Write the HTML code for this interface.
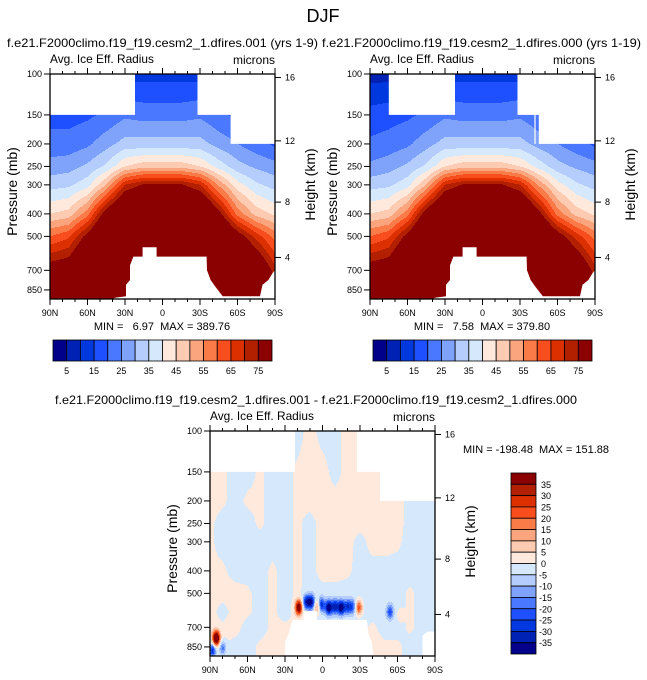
<!DOCTYPE html>
<html><head><meta charset="utf-8"><style>
html,body{margin:0;padding:0;background:#fff;}
svg{display:block;font-family:"Liberation Sans",sans-serif;}
</style></head><body>
<svg id="root" width="647" height="680" viewBox="0 0 647 680" xmlns="http://www.w3.org/2000/svg">
<text x="323" y="22" font-size="18" text-anchor="middle">DJF</text>
<text x="7" y="47" font-size="12" textLength="311" lengthAdjust="spacingAndGlyphs">f.e21.F2000climo.f19_f19.cesm2_1.dfires.001 (yrs 1-9)</text>
<text x="322" y="47" font-size="12" textLength="319" lengthAdjust="spacingAndGlyphs">f.e21.F2000climo.f19_f19.cesm2_1.dfires.000 (yrs 1-19)</text>
<text x="55" y="404" font-size="12" textLength="522" lengthAdjust="spacingAndGlyphs">f.e21.F2000climo.f19_f19.cesm2_1.dfires.001 - f.e21.F2000climo.f19_f19.cesm2_1.dfires.000</text>
<text x="162" y="330" font-size="11" text-anchor="middle" xml:space="preserve">MIN =   6.97  MAX = 389.76</text>
<text x="482" y="330" font-size="11" text-anchor="middle" xml:space="preserve">MIN =   7.58  MAX = 379.80</text>
<text x="463" y="453" font-size="11" textLength="146" lengthAdjust="spacingAndGlyphs" xml:space="preserve">MIN = -198.48  MAX = 151.88</text>
</svg>
<script>
const latGrid=[90,75,60,45,30,15,0,-15,-30,-45,-60,-75,-90];
const presGrid=[100,150,200,250,300,400,500,700,850,930];
const ice001=[
[10,10,11,12,13,13,13,13,13,12,11,10,10],
[18,18,19,21,24,23,23,23,24,21,19,18,18],
[22,22,24,28,32,32,32,32,32,28,25,22,19],
[27,28,31,36,45,48,48,48,45,38,32,29,27],
[33,34,38,50,70,76,76,76,70,54,42,36,33],
[45,47,58,80,95,95,95,95,95,78,58,48,44],
[60,64,78,95,95,95,95,95,95,95,80,68,58],
[80,82,95,95,95,95,95,95,95,95,95,88,72],
[85,88,95,95,95,95,95,95,95,95,95,92,76],
[85,88,95,95,95,95,95,95,95,95,95,92,76]];
const ice000=[
[8,8,11,12,13,13,13,13,13,12,11,10,10],
[17,18,19,21,24,23,23,23,24,21,19,18,18],
[21,22,24,28,32,32,32,32,32,28,25,22,19],
[26,28,31,36,45,48,48,48,45,38,32,29,27],
[33,34,38,50,70,76,76,76,70,54,42,36,33],
[45,47,58,80,95,95,95,95,95,78,58,48,44],
[60,64,78,95,95,95,95,95,95,95,80,68,58],
[80,82,95,95,95,95,95,95,95,95,95,88,72],
[85,88,95,95,95,95,95,95,95,95,95,92,76],
[85,88,95,95,95,95,95,95,95,95,95,92,76]];
const absLevels=[5,10,15,20,25,30,35,40,45,50,55,60,65,70,75];
const absLabels=[5,15,25,35,45,55,65,75];
const absColors=["#00008b","#0022b4","#0038e0","#1e50ff","#4a78ff","#7fa2fb","#b4cdfd","#d6e8fc","#fee9dc","#fdcab2","#fba57f","#fa7a48","#f84d1c","#dc3000","#b32000","#8b0000"];
const diffLat=[90,80,70,60,50,40,30,20,10,0,-10,-20,-30,-40,-50,-60,-70,-80,-90];
const diffPres=[100,150,200,250,300,400,500,600,700,850,930];
const diffVals=[
[2,1,-2,-2,1,-2,-2,-2,2,-2,-2,2,2,2,2,-2,-2,-2,-2],
[2,1,-2,-2,1,-2,-2,1,2,2,-2,2,2,2,2,-2,-2,-2,-2],
[2,1,-2,1,1,-2,-2,1,2,2,2,2,2,2,2,2,-2,-2,-2],
[1,-2,-2,-2,1,-2,-2,1,-2,2,2,2,2,2,2,2,-2,-2,-2],
[1,-2,-2,-2,-2,-2,-2,1,-2,2,2,2,-2,2,2,1,-2,-2,-2],
[1,1,-2,-2,-2,1,-2,1,-2,2,2,1,-2,-2,-2,-2,-2,-2,-2],
[2,2,2,1,-2,1,-2,1,-2,-2,-2,-2,-2,-2,-2,-2,1,-2,-2],
[2,-2,2,1,-2,1,-2,1,-2,-2,-2,-2,-2,-2,-2,-2,1,-2,-2],
[2,1,2,-2,-2,1,1,1,-2,-2,-2,-2,-2,1,-2,-2,1,-2,-2],
[2,1,-2,-2,1,2,2,2,2,2,2,2,2,2,1,1,-2,-2,1],
[2,1,-2,-2,1,2,2,2,2,2,2,2,2,2,1,1,-2,-2,1]];
const diffBlobLat=[85,80,88,19,13,9,4,1,-5,-10,-15,-20,-24,-29,-54,-62];
const diffBlobP=[780,860,880,575,545,545,570,560,575,570,575,570,570,575,600,620];
const diffBlobAmp=[55,-18,-30,45,-30,-35,20,-30,-40,-30,-40,-25,-20,25,-22,4];
const diffLevels=[-35,-30,-25,-20,-15,-10,-5,0,5,10,15,20,25,30,35];
const diffColors=["#00008b","#0022b4","#0038e0","#1e50ff","#4a78ff","#7fa2fb","#b4cdfd","#d6e8fc","#fee9dc","#fdcab2","#fba57f","#fa7a48","#f84d1c","#dc3000","#b32000","#8b0000"];
const presTicks=[100,150,200,250,300,400,500,700,850];
const heightTicks=[16,12,8,4];
const heightTickP=[103.5,194,356,616];
const latTicks=[90,60,30,0,-30,-60,-90];
const latTickLabels=["90N","60N","30N","0","30S","60S","90S"];

const NS="http://www.w3.org/2000/svg";
const root=document.getElementById('root');
const PMAX=930, W=225, H=225;
function mk(tag,attrs,parent){const e=document.createElementNS(NS,tag);for(const k in attrs)e.setAttribute(k,attrs[k]);(parent||root).appendChild(e);return e;}
function xScale(left,lat){return left+(90-lat)/180*W;}
function yScale(top,p){return top+H*Math.log(p/100)/Math.log(PMAX/100);}
function latAt(left,x){return 90-(x-left)/W*180;}
function pAt(top,y){return 100*Math.exp((y-top)/H*Math.log(PMAX/100));}
function frac(arr,v){
  const inc=arr[1]>arr[0];
  for(let i=0;i<arr.length-1;i++){const a=arr[i],b=arr[i+1];
    if((inc&&v>=a&&v<=b)||(!inc&&v<=a&&v>=b))return i+(v-a)/(b-a);}
  return (inc?(v<arr[0]):(v>arr[0]))?0:arr.length-1;
}
function bilin(grid,latA,presA,lat,p){
  const fi=frac(latA,lat);
  const pj=frac(presA.map(Math.log),Math.log(p));
  const i0=Math.min(Math.floor(fi),latA.length-2),j0=Math.min(Math.floor(pj),presA.length-2);
  const tx=fi-i0,ty=pj-j0;
  return grid[j0][i0]*(1-tx)*(1-ty)+grid[j0][i0+1]*tx*(1-ty)+grid[j0+1][i0]*(1-tx)*ty+grid[j0+1][i0+1]*tx*ty;
}
function bin(levels,v){let k=0;while(k<levels.length&&v>=levels[k])k++;return k;}

function renderField(name,left,top,valFn,levels,colors){
  const g=mk('g',{});
  
  
  for(let y=0;y<H;y++){
    const p=pAt(top,top+y+0.5);
    let runStart=0,runC=-1;
    for(let x=0;x<=W;x++){
      let c=-2;
      if(x<W){c=bin(levels,valFn(latAt(left,left+x+0.5),p));}
      if(c!==runC){
        if(runC>=0){mk('rect',{x:left+runStart,y:top+y,width:x-runStart+0.3,height:1.3,fill:colors[runC]},g);}
        runStart=x;runC=c;
      }
    }
  }
  return g;
}
function drawMask(left,top,polys,name){
  const g=mk('g',{});
  
  
  polys.forEach(poly=>{
    const pts=poly.map(q=>xScale(left,q[0]).toFixed(1)+','+yScale(top,q[1]).toFixed(1)).join(' ');
    mk('polygon',{points:pts,fill:'#fff'},g);
  });
}
function drawAxes(left,top,prefix){
  const g=mk('g',{});
  
  
  mk('rect',{x:left,y:top,width:W,height:H,fill:'none',stroke:'#000','stroke-width':1.3},g);
  presTicks.forEach(p=>{const y=yScale(top,p);
    mk('line',{x1:left-6,y1:y,x2:left,y2:y,stroke:'#000','stroke-width':1},g);
    const t=mk('text',{x:left-8,y:y+3,'font-size':9,'text-anchor':'end'},g);t.textContent=p;
    
    
  });
  heightTicks.forEach((h,i)=>{const y=yScale(top,heightTickP[i]);
    mk('line',{x1:left+W,y1:y,x2:left+W+6,y2:y,stroke:'#000','stroke-width':1},g);
    const t=mk('text',{x:left+W+10,y:y+3,'font-size':9},g);t.textContent=h;
    
    
  });
  for(let lat=90;lat>=-90;lat-=10){const x=xScale(left,lat);const major=(lat%30===0);const L=major?6:3;
    mk('line',{x1:x,y1:top,x2:x,y2:top-L,stroke:'#000','stroke-width':1},g);
    mk('line',{x1:x,y1:top+H,x2:x,y2:top+H+L,stroke:'#000','stroke-width':1},g);
  }
  latTicks.forEach((lat,i)=>{const t=mk('text',{x:xScale(left,lat),y:top+H+17,'font-size':9,'text-anchor':'middle'},g);t.textContent=latTickLabels[i];
    
    
  });
  const a=mk('text',{x:left,y:top-11,'font-size':12,textLength:104,lengthAdjust:'spacingAndGlyphs'},g);a.textContent='Avg. Ice Eff. Radius';
  
  
  const m=mk('text',{x:left+W,y:top-10,'font-size':12,'text-anchor':'end'},g);m.textContent='microns';
  
  
  const yl=mk('text',{x:0,y:0,'font-size':14,'text-anchor':'middle',transform:`translate(${left-33},${top+H/2+5}) rotate(-90)`},g);yl.textContent='Pressure (mb)';
  
  
  const hl=mk('text',{x:0,y:0,'font-size':14,'text-anchor':'middle',transform:`translate(${left+W+40},${top+H/2-2}) rotate(-90)`},g);hl.textContent='Height (km)';
  
  
}
function hColorbar(x0,y0,w,h,name){
  const g=mk('g',{});
  
  
  const bw=w/absColors.length;
  absColors.forEach((c,i)=>mk('rect',{x:x0+i*bw,y:y0,width:bw,height:h,fill:c,stroke:'#000','stroke-width':0.8},g));
  absLabels.forEach(v=>{const k=absLevels.indexOf(v)+1;const t=mk('text',{x:x0+k*bw,y:y0+h+13,'font-size':9,'text-anchor':'middle'},g);t.textContent=v;
    
    });
}
function vColorbar(x0,y0,w,h,name){
  const g=mk('g',{});
  
  
  const n=diffColors.length,bh=h/n;
  for(let i=0;i<n;i++)mk('rect',{x:x0,y:y0+i*bh,width:w,height:bh,fill:diffColors[n-1-i],stroke:'#000','stroke-width':0.8},g);
  for(let k=0;k<diffLevels.length;k++){const v=diffLevels[diffLevels.length-1-k];
    const t=mk('text',{x:x0+w+(v<0?3:5),y:y0+(k+1)*bh+3.5,'font-size':9},g);t.textContent=v;
    
    }
}
const surfaceMask=[[38.6,935],[38.6,920],[29.2,905],[29.2,808],[26,770],[26,665],[23.3,611],[15.9,611],[15.9,557],[4.7,557],[4.7,611],[-35.3,611],[-35.6,700],[-38.5,770],[-42,820],[-48.2,905],[-78,905],[-80,808],[-84.7,770],[-88,720],[-90,700],[-91,700],[-91,935]];
renderField('left-field',50,74,(lat,p)=>bilin(ice001,latGrid,presGrid,lat,p),absLevels,absColors);
drawMask(50,74,[[[91,95],[22,95],[22,150],[91,150]],[[-28,95],[-91,95],[-91,150],[-28,150]],[[-54.5,149],[-91,149],[-91,200],[-54.5,200]],surfaceMask],'left-missing-mask');
drawAxes(50,74,'left');
hColorbar(53,340,219,21,'left-colorbar');
renderField('right-field',370,74,(lat,p)=>bilin(ice000,latGrid,presGrid,lat,p),absLevels,absColors);
drawMask(370,74,[[[75,95],[22,95],[22,150],[75,150]],[[-28,95],[-91,95],[-91,150],[-28,150]],[[-41.5,149],[-42.5,149],[-42.5,200],[-41.5,200]],[[-45,149],[-91,149],[-91,200],[-45,200]],surfaceMask],'right-missing-mask');
drawAxes(370,74,'right');
hColorbar(373,340,219,21,'right-colorbar');
renderField('diff-field',210,431,(lat,p)=>{
  let v=bilin(diffVals,diffLat,diffPres,lat,p);
  for(let i=0;i<diffBlobLat.length;i++){
    const dl=(lat-diffBlobLat[i])/2.8, dp=Math.log(p/diffBlobP[i])/0.07;
    v+=diffBlobAmp[i]*Math.exp(-(dl*dl+dp*dp));
  }
  return v;
},diffLevels,diffColors);
drawMask(210,431,[[[91,95],[22,95],[22,150],[91,150]],[[-27.5,95],[-91,95],[-91,150],[-27.5,150]],[[-46,149],[-91,149],[-91,200],[-46,200]],
 [[46,935],[46,925],[29.9,925],[29.9,808],[27.2,750],[24,650],[15.2,650],[15.2,596],[4.6,596],[4.6,650],[-35.5,650],[-36.8,750],[-39.5,808],[-40.8,935]],
 [[-80,935],[-80,760],[-84,730],[-91,730],[-91,935]]],'diff-missing-mask');
drawAxes(210,431,'diff');
vColorbar(511,473,25,181,'diff-colorbar');
</script>
</body></html>
